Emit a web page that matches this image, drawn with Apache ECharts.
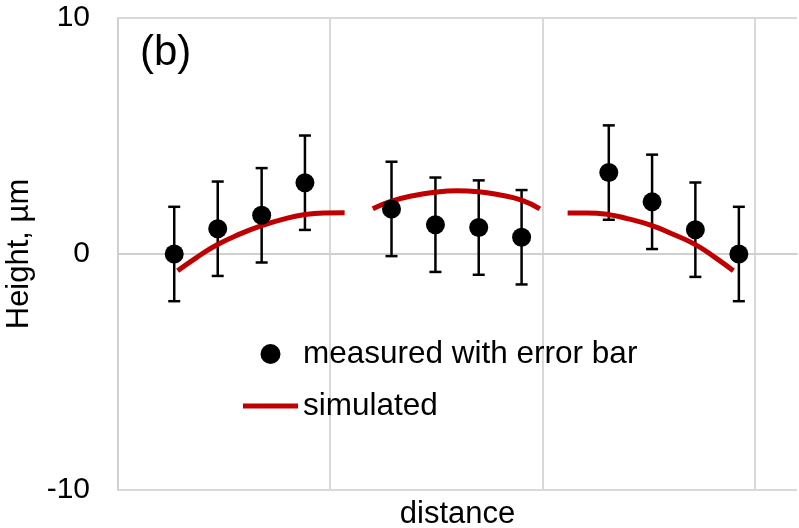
<!DOCTYPE html>
<html>
<head>
<meta charset="utf-8">
<script src="https://cdn.jsdelivr.net/npm/echarts@6/dist/echarts.min.js"></script>
<style>
  html, body { margin: 0; padding: 0; background: #fff; }
  #chart { width: 799px; height: 528px; }
</style>
</head>
<body>
<div id="chart"></div>
<script>
  // measured points (distance, height in µm) and their error bars
  const measuredX = [0.265, 0.470, 0.677, 0.881, 1.289, 1.496, 1.700, 1.902, 2.313, 2.517, 2.721, 2.926]
  const measuredY = [0, 1.07, 1.64, 3.02, 1.91, 1.24, 1.12, 0.71, 3.45, 2.21, 1.03, 0]
  const errorSize = [2, 2, 2, 2, 2, 2, 2, 2, 2, 2, 2, 2]

  // simulated profile, three separate pieces
  const simSeg1 = [[0.281, -0.71], [0.37, -0.15], [0.465, 0.38], [0.57, 0.83], [0.677, 1.20], [0.78, 1.48], [0.881, 1.67], [0.97, 1.74], [1.068, 1.75]]
  const simSeg2 = [[1.201, 1.92], [1.289, 2.24], [1.39, 2.47], [1.496, 2.62], [1.595, 2.68], [1.700, 2.64], [1.80, 2.50], [1.902, 2.28], [1.988, 1.91]]
  const simSeg3 = [[2.119, 1.74], [2.21, 1.74], [2.305, 1.68], [2.40, 1.50], [2.510, 1.22], [2.61, 0.86], [2.717, 0.42], [2.81, -0.12], [2.900, -0.71]]

  const yTicks = [-10, 0, 10]

  const font = 'Liberation Sans, Arial, sans-serif'

  const simData = simSeg1.concat([[1.13, '-']], simSeg2, [[2.05, '-']], simSeg3)
  const errData = measuredX.map((x, i) => [x, measuredY[i] - errorSize[i], measuredY[i] + errorSize[i]])
  const pointData = measuredX.map((x, i) => [x, measuredY[i]])

  const chart = echarts.init(document.getElementById('chart'))

  chart.setOption({
    animation: false,
    backgroundColor: '#fff',
    textStyle: { fontFamily: font, color: '#000' },
    grid: { left: 118, right: 2, top: 18, bottom: 38, outerBoundsMode: 'none', containLabel: false },
    graphic: [{
      type: 'text',
      left: 140,
      top: 32,
      style: { text: '(b)', font: '42px ' + font, fill: '#000' }
    }],
    legend: {
      orient: 'vertical',
      left: 238,
      top: 333,
      itemWidth: 55,
      itemHeight: 20,
      itemGap: 20,
      textStyle: { fontSize: 31.5, fontFamily: font, color: '#000' },
      data: [
        { name: 'measured with error bar', icon: 'circle' },
        { name: 'simulated', icon: 'path://M0,0 L55,0 L55,5 L0,5 Z' }
      ]
    },
    xAxis: {
      type: 'value',
      min: 0,
      max: 3.2,
      interval: 1,
      name: 'distance',
      nameLocation: 'middle',
      nameGap: 9,
      nameTextStyle: { fontSize: 31, fontFamily: font, color: '#000' },
      axisLine: { show: true, lineStyle: { color: '#d0d0d0', width: 2 } },
      axisTick: { show: false },
      axisLabel: { show: false },
      splitLine: { show: true, showMaxLine: false, lineStyle: { color: '#d9d9d9', width: 2 } }
    },
    yAxis: {
      type: 'value',
      min: yTicks[0],
      max: yTicks[yTicks.length - 1],
      interval: 10,
      name: 'Height, µm',
      nameLocation: 'middle',
      nameGap: 83,
      nameTextStyle: { fontSize: 31, fontFamily: font, color: '#000' },
      axisLine: { show: true, lineStyle: { color: '#d0d0d0', width: 2 } },
      axisTick: { show: false },
      axisLabel: { fontSize: 30, fontFamily: font, color: '#000', margin: 28 },
      splitLine: { show: true, lineStyle: { color: '#d9d9d9', width: 2 } }
    },
    series: [
      {
        name: 'error',
        type: 'custom',
        z: 2,
        encode: { x: 0, y: [1, 2] },
        data: errData,
        renderItem (params, api) {
          const x = api.value(0)
          const top = api.coord([x, api.value(2)])
          const bot = api.coord([x, api.value(1)])
          const half = 6
          const style = { stroke: '#000', lineWidth: 2.5 }
          return {
            type: 'group',
            children: [
              { type: 'line', shape: { x1: top[0], y1: top[1], x2: bot[0], y2: bot[1] }, style },
              { type: 'line', shape: { x1: top[0] - half, y1: top[1], x2: top[0] + half, y2: top[1] }, style },
              { type: 'line', shape: { x1: bot[0] - half, y1: bot[1], x2: bot[0] + half, y2: bot[1] }, style }
            ]
          }
        }
      },
      {
        name: 'simulated',
        type: 'line',
        z: 3,
        smooth: true,
        showSymbol: false,
        symbol: 'none',
        connectNulls: false,
        lineStyle: { color: '#c00000', width: 5 },
        itemStyle: { color: '#c00000' },
        data: simData
      },
      {
        name: 'measured with error bar',
        type: 'scatter',
        z: 4,
        symbol: 'circle',
        symbolSize: 19,
        itemStyle: { color: '#000', opacity: 1 },
        data: pointData
      }
    ]
  })
</script>
</body>
</html>
